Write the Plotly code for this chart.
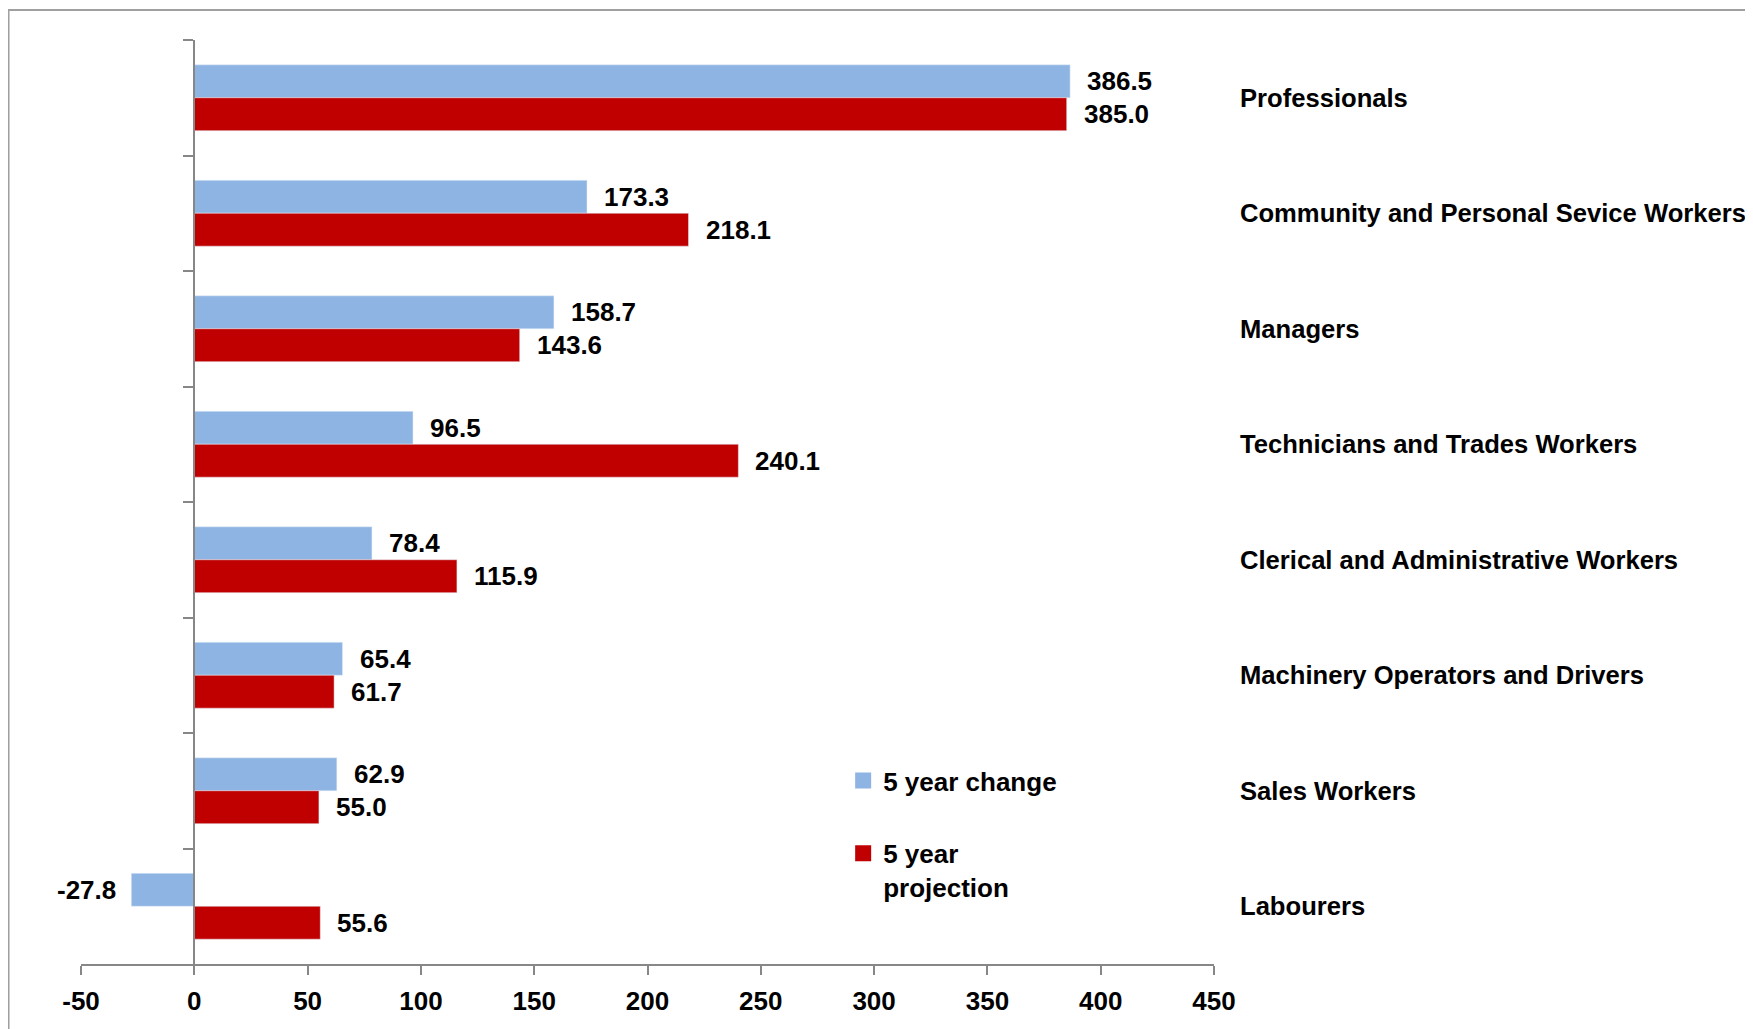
import plotly.graph_objects as go

categories = [
    "Professionals",
    "Community and Personal Sevice Workers",
    "Managers",
    "Technicians and Trades Workers",
    "Clerical and Administrative Workers",
    "Machinery Operators and Drivers",
    "Sales Workers",
    "Labourers",
]
change_5yr = [386.5, 173.3, 158.7, 96.5, 78.4, 65.4, 62.9, -27.8]
projection_5yr = [385.0, 218.1, 143.6, 240.1, 115.9, 61.7, 55.0, 55.6]
x_ticks = [-50, 0, 50, 100, 150, 200, 250, 300, 350, 400, 450]

OFF = 8  # page body margin
W, H = 1753 - OFF, 1029 - OFF
PL, PR, PT, PB = 80.5 - OFF, 1214 - OFF, 40 - OFF, 964 - OFF
FONT = "Liberation Sans"
BLUE = "#8EB4E3"
RED = "#C00000"
GRAY = "#878787"

fig = go.Figure()
fig.add_trace(go.Bar(y=categories, x=change_5yr, orientation="h", name="5 year change",
                     marker=dict(color=BLUE), showlegend=False))
fig.add_trace(go.Bar(y=categories, x=projection_5yr, orientation="h", name="5 year projection",
                     marker=dict(color=RED), showlegend=False))
# legend entries with larger square swatches
fig.add_trace(go.Scatter(x=[None], y=[None], mode="markers", name="5 year change",
                         marker=dict(symbol="square", size=20, color=BLUE), legendgroup="a"))
fig.add_trace(go.Scatter(x=[None], y=[None], mode="markers", name="5 year<br>projection",
                         marker=dict(symbol="square", size=20, color=RED), legendgroup="b"))

annotations = []
for series, shift in ((change_5yr, 16.5), (projection_5yr, -16.5)):
    for cat, v in zip(categories, series):
        annotations.append(dict(
            x=v, y=cat, xref="x", yref="y", text=f"{v:.1f}", showarrow=False,
            xanchor="left" if v >= 0 else "right", xshift=15 if v >= 0 else -13, yshift=shift,
            font=dict(family=FONT, size=26, color="black", weight="bold")))
for cat in categories:
    annotations.append(dict(
        x=1, y=cat, xref="paper", yref="y", text=cat, showarrow=False,
        xanchor="left", xshift=24,
        font=dict(family=FONT, size=25.6, color="black", weight="bold")))

pw = PR - PL
ph = PB - PT
fig.update_layout(
    width=W, height=H,
    margin=dict(l=PL, r=W - PR, t=PT, b=H - PB, autoexpand=False),
    paper_bgcolor="white", plot_bgcolor="white",
    barmode="group", bargap=0.43, bargroupgap=0,
    font=dict(family=FONT, size=26, color="black", weight="bold"),
    xaxis=dict(range=[-50, 450], tickvals=x_ticks, ticktext=[str(t) for t in x_ticks],
               showgrid=False, zeroline=False,
               showline=True, linecolor=GRAY, linewidth=2, ticks="outside", ticklen=9,
               tickwidth=1.5, tickcolor=GRAY, ticklabelstandoff=4,
               tickfont=dict(family=FONT, size=26, color="black", weight="bold")),
    yaxis=dict(autorange="reversed", showticklabels=False, showgrid=False, zeroline=False,
               showline=True, linecolor=GRAY, linewidth=2, ticks="outside", ticklen=10,
               tickwidth=1.5, tickcolor=GRAY, tickson="boundaries",
               anchor="free", position=(0 - (-50)) / 500),
    legend=dict(x=(843 - OFF - PL) / pw, y=(PB - (757 - OFF)) / ph, xanchor="left", yanchor="top",
                traceorder="grouped", tracegroupgap=36, itemwidth=30, valign="top",
                font=dict(family=FONT, size=26, color="black", weight="bold"),
                bgcolor="rgba(0,0,0,0)"),
    annotations=annotations,
    shapes=[dict(type="rect", xref="paper", yref="paper",
                 x0=(8 - OFF - PL) / pw, x1=(W + 10 - PL) / pw,
                 y0=(PB - (H + 10)) / ph, y1=(PB - (10 - OFF)) / ph,
                 line=dict(color="#A0A0A0", width=2), fillcolor="rgba(0,0,0,0)", layer="below")],
)

fig.write_html("out.html")
